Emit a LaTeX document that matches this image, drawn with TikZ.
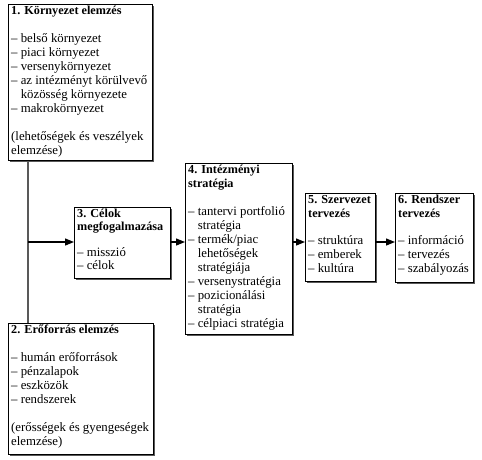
\documentclass[tikz,border=0pt]{standalone}
\usepackage{fontspec}
\setmainfont{Liberation Serif}
\usetikzlibrary{arrows.meta}
\newcommand{\dd}{\phantom{– }}
\newcommand{\ttl}[1]{{\fontsize{12.2}{14}\selectfont\bfseries #1}}
\tikzset{
  box/.style={draw=black, line width=0.9pt, fill=white, inner sep=0pt, anchor=north west},
  shad/.style={fill=black!65, draw=none},
  txt/.style={anchor=north west, inner sep=0pt, align=left, font=\fontsize{12.8}{14}\selectfont},
  conn/.style={draw=black!65, line width=1.2pt},
  arr/.style={draw=black, line width=1.2pt, -{Triangle[length=9pt,width=7pt]}}
}
\begin{document}
\begin{tikzpicture}[x=1pt,y=-1pt]
\useasboundingbox (0,0) rectangle (482,459);
% shadows
\fill[shad] (10,6) rectangle (154,162);
\fill[shad] (10,325) rectangle (155,456);
\fill[shad] (76,209) rectangle (172,280);
\fill[shad] (187,165) rectangle (294,336);
\fill[shad] (307,195) rectangle (377,283);
\fill[shad] (397,195) rectangle (475,284);
% boxes
\node[box, minimum width=144, minimum height=156] (b1) at (8,4) {};
\node[box, minimum width=145, minimum height=131] (b2) at (8,323) {};
\node[box, minimum width=96, minimum height=71] (b3) at (74,207) {};
\node[box, minimum width=107, minimum height=171] (b4) at (185,163) {};
\node[box, minimum width=70, minimum height=88] (b5) at (305,193) {};
\node[box, minimum width=78, minimum height=89] (b6) at (395,193) {};
% texts
\node[txt] (t1) at (11,6) {\ttl{1. Környezet elemzés}\\[14pt]
– belső környezet\\
– piaci környezet\\
– versenykörnyezet\\
– az intézményt körülvevő\\
\dd közösség környezete\\
– makrokörnyezet\\[14pt]
(lehetőségek és veszélyek\\
elemzése)};
\node[txt] (t2) at (11,325) {\ttl{2. Erőforrás elemzés}\\[14pt]
– humán erőforrások\\
– pénzalapok\\
– eszközök\\
– rendszerek\\[14pt]
(erősségek és gyengeségek\\
elemzése)};
\node[txt, font=\fontsize{12.8}{13}\selectfont] (t3) at (77,209) {\ttl{3. Célok}\\
\ttl{megfogalmazása}\\[12.5pt]
– misszió\\
– célok};
\node[txt] (t4) at (188,165) {\ttl{4. Intézményi}\\
\ttl{stratégia}\\[14pt]
– tantervi portfolió\\
\dd stratégia\\
– termék/piac\\
\dd lehetőségek\\
\dd stratégiája\\
– versenystratégia\\
– pozicionálási\\
\dd stratégia\\
– célpiaci stratégia};
\node[txt] (t5) at (308,195) {\ttl{5. Szervezet}\\
\ttl{tervezés}\\[13pt]
– struktúra\\
– emberek\\
– kultúra};
\node[txt] (t6) at (398,195) {\ttl{6. Rendszer}\\
\ttl{tervezés}\\[13pt]
– információ\\
– tervezés\\
– szabályozás};
% connectors
\coordinate (j) at (28,242);
\draw[conn] (b1.south -| j) -- (b2.north -| j);
\draw[arr] (j) -- (j -| b3.west);
\draw[arr] (j -| b3.east) -- (j -| b4.west);
\draw[arr] (j -| b4.east) -- (j -| b5.west);
\draw[arr] (j -| b5.east) -- (j -| b6.west);
\end{tikzpicture}
\end{document}
